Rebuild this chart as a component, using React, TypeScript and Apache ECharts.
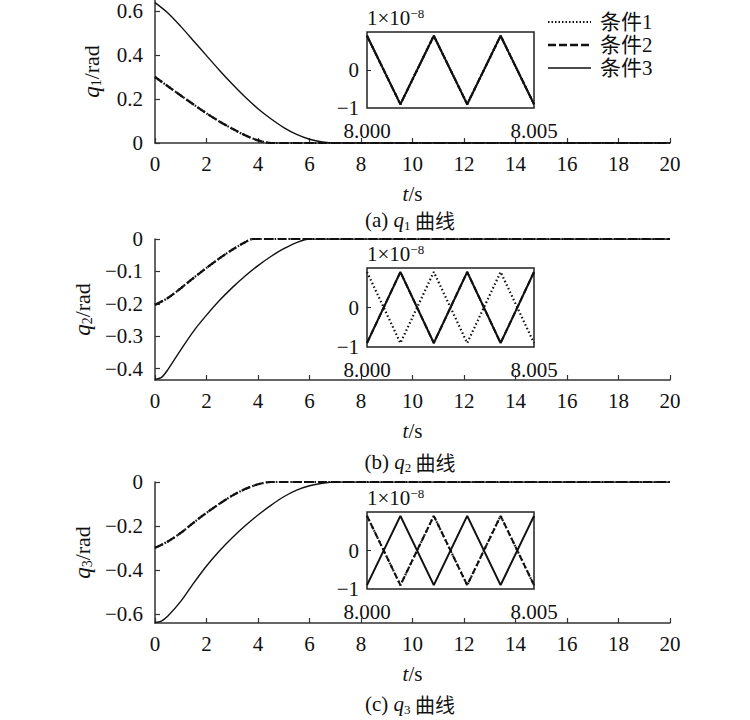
import React, { useEffect, useRef } from 'react';
import * as echarts from 'echarts';

// ---------- data ----------
const LEGEND_NAMES = ['条件1', '条件2', '条件3'];
const CAPTIONS = ['(a) ', '(b) ', '(c) '];
const CAPTION_SUBS = ['1', '2', '3'];

const X_TICK_STEP = 2;
const X_MAX = 20;

const Y1_TICKS = [0, 0.2, 0.4, 0.6];
const Y2_TICKS = [-0.4, -0.3, -0.2, -0.1, 0];
const Y3_TICKS = [-0.6, -0.4, -0.2, 0];

// q1
const T_Q1_C12 = [0, 0.5, 1, 1.5, 2, 2.5, 3, 3.5, 4, 4.5, 5.5, 20];
const Q1_C12 = [0.3, 0.258, 0.216, 0.175, 0.135, 0.098, 0.065, 0.035, 0.012, 0, 0, 0];
const T_Q1_C3 = [0, 0.5, 1, 1.5, 2, 2.5, 3, 3.5, 4, 4.5, 5, 5.5, 6, 6.5, 7, 8, 20];
const Q1_C3 = [0.638, 0.591, 0.53, 0.464, 0.397, 0.331, 0.268, 0.209, 0.156, 0.11, 0.07, 0.039, 0.017, 0.0043, 0, 0, 0];

// q2
const T_Q2_C12 = [0, 0.5, 1, 1.5, 2, 2.5, 3, 3.5, 3.8, 4.8, 20];
const Q2_C12 = [-0.203, -0.182, -0.152, -0.12, -0.089, -0.06, -0.033, -0.01, 0, 0, 0];
const T_Q2_C3 = [0, 0.25, 0.5, 1, 1.5, 2, 2.5, 3, 3.5, 4, 4.5, 5, 5.5, 6, 7, 20];
const Q2_C3 = [-0.433, -0.427, -0.403, -0.342, -0.284, -0.235, -0.19, -0.15, -0.114, -0.082, -0.054, -0.03, -0.011, 0, 0, 0];

// q3
const T_Q3_C12 = [0, 0.5, 1, 1.5, 2, 2.5, 3, 3.5, 4, 4.5, 5.5, 20];
const Q3_C12 = [-0.299, -0.27, -0.231, -0.184, -0.14, -0.099, -0.062, -0.032, -0.0104, 0, 0, 0];
const T_Q3_C3 = [0, 0.25, 0.5, 1, 1.5, 2, 2.5, 3, 3.5, 4, 4.5, 5, 5.5, 6, 6.5, 7, 8, 20];
const Q3_C3 = [-0.638, -0.631, -0.608, -0.542, -0.459, -0.381, -0.313, -0.253, -0.199, -0.15, -0.106, -0.067, -0.037, -0.017, -0.0055, 0, 0, 0];

// insets (zoom around t = 8.000 … 8.005 s, unit 1e-8)
const T_INSET = [8.0, 8.001, 8.002, 8.003, 8.004, 8.005];
const PEAK_FIRST = [0.9, -0.9, 0.9, -0.9, 0.9, -0.9];
const TROUGH_FIRST = [-0.9, 0.9, -0.9, 0.9, -0.9, 0.9];
const INSET_X_TICKS = [8.0, 8.005];
const INSET_Y_TICKS = [-1, 0];

// ---------- style ----------
const SERIF = "'Liberation Serif', serif";
const MIXED = "'Liberation Serif', 'Noto Sans CJK SC', serif";
const CJK = "'Noto Sans CJK SC', sans-serif";
const INK = '#111';
const FS = 21;

const SOLID = { color: INK, width: 1.4, type: 'solid' as const };
const DASH = { color: INK, width: 2.2, type: [9, 4] };
const DOT = { color: INK, width: 2.2, type: [1.5, 2] };
const I_SOLID = { color: INK, width: 2, type: 'solid' as const };
const I_DASH = { color: INK, width: 2, type: [6, 3] };
const I_DOT = { color: INK, width: 2.2, type: [1.5, 2.5] };
const LEGEND_STYLES = [
  { lineDash: [1.5, 2], lineWidth: 2 },
  { lineDash: [8, 3], lineWidth: 2.5 },
  { lineDash: null, lineWidth: 1.4 },
];

const MAIN_GRIDS = [
  { left: 155, top: 0, width: 515, height: 143 },
  { left: 155, top: 239, width: 515, height: 141 },
  { left: 155, top: 482, width: 515, height: 141 },
];
const INSET_GRIDS = [
  { left: 367, top: 32, width: 167, height: 76 },
  { left: 367, top: 268, width: 167, height: 79 },
  { left: 367, top: 512, width: 167, height: 77 },
];

const fmtMinus = (s: string) => s.replace('-', '−');

function pairs(ts: number[], vs: number[]) {
  return ts.map((t, i) => [t, vs[i]]);
}

function line(name: string, idx: number, ts: number[], vs: number[], ls: any, z: number, smooth: boolean) {
  return {
    type: 'line',
    name,
    xAxisIndex: idx,
    yAxisIndex: idx,
    data: pairs(ts, vs),
    symbol: 'none',
    showSymbol: false,
    smooth: smooth ? 0.3 : false,
    lineStyle: ls,
    z,
    silent: true,
  };
}

function buildOption() {
  const grids: any[] = [];
  const xAxes: any[] = [];
  const yAxes: any[] = [];
  const yTicks = [Y1_TICKS, Y2_TICKS, Y3_TICKS];
  const yMin = [0, -0.435, -0.64];
  const yMax = [0.65, 0, 0];

  MAIN_GRIDS.forEach((g, i) => {
    grids.push({ ...g, show: false });
    xAxes.push({
      type: 'value',
      gridIndex: i,
      min: 0,
      max: X_MAX,
      interval: X_TICK_STEP,
      axisLine: { show: true, onZero: false, lineStyle: { color: '#333', width: 1.5 } },
      axisTick: { show: true, inside: true, length: 5, lineStyle: { color: '#333', width: 1.2 } },
      axisLabel: { fontFamily: SERIF, fontSize: FS, color: INK, margin: 10 },
      splitLine: { show: false },
      name: '{i|t}/s',
      nameLocation: 'middle',
      nameGap: 40,
      nameTextStyle: {
        fontFamily: SERIF, fontSize: FS, color: INK,
        rich: { i: { fontFamily: SERIF, fontSize: FS, fontStyle: 'italic', color: INK } },
      },
    });
    yAxes.push({
      type: 'value',
      gridIndex: i,
      min: yMin[i],
      max: yMax[i],
      axisLine: { show: true, onZero: false, lineStyle: { color: '#333', width: 1.5 } },
      axisTick: {
        show: true, inside: true, length: 5, customValues: yTicks[i],
        lineStyle: { color: '#333', width: 1.2 },
      },
      axisLabel: {
        fontFamily: SERIF, fontSize: FS, color: INK, margin: 12,
        customValues: yTicks[i],
        formatter: (v: number) => (Math.abs(v) < 1e-9 ? '0' : fmtMinus(v.toFixed(1))),
      },
      splitLine: { show: false },
      name: '{i|q}{s|' + CAPTION_SUBS[i] + '}/rad',
      nameLocation: 'middle',
      nameRotate: 90,
      nameGap: 52,
      nameTextStyle: {
        fontFamily: SERIF, fontSize: 22, color: INK,
        rich: {
          i: { fontFamily: SERIF, fontSize: 23, fontStyle: 'italic', color: INK, lineHeight: 24 },
          s: { fontFamily: SERIF, fontSize: 14, color: INK, verticalAlign: 'bottom', lineHeight: 14 },
        },
      },
    });
  });

  INSET_GRIDS.forEach((g, i) => {
    grids.push({ ...g, show: true, borderColor: '#222', borderWidth: 1.5, backgroundColor: '#fff', z: 5 });
    xAxes.push({
      type: 'value',
      gridIndex: 3 + i,
      min: 8.0,
      max: 8.005,
      interval: 0.005,
      axisLine: { show: false },
      axisTick: { show: false },
      axisLabel: {
        fontFamily: SERIF, fontSize: FS, color: INK, margin: 12,
        customValues: INSET_X_TICKS,
        showMinLabel: true, showMaxLabel: true,
        formatter: (v: number) => v.toFixed(3),
      },
      splitLine: { show: false },
      z: 6,
    });
    yAxes.push({
      type: 'value',
      gridIndex: 3 + i,
      min: -1,
      max: 1,
      interval: 1,
      axisLine: { show: false },
      axisTick: { show: true, inside: true, length: 4, customValues: [0], lineStyle: { color: '#222' } },
      axisLabel: {
        fontFamily: SERIF, fontSize: FS, color: INK, margin: 8,
        customValues: INSET_Y_TICKS,
        formatter: (v: number) => (v === 0 ? '0' : fmtMinus(String(v))),
      },
      splitLine: { show: false },
      name: '1×10{sup|−8}',
      nameLocation: 'end',
      nameGap: 4,
      nameTextStyle: {
        fontFamily: SERIF, fontSize: FS, color: INK, align: 'left', verticalAlign: 'bottom',
        rich: { sup: { fontFamily: SERIF, fontSize: 13, color: INK, verticalAlign: 'top', lineHeight: 12 } },
      },
      z: 6,
    });
  });

  const series: any[] = [
    // q1 main
    line(LEGEND_NAMES[0], 0, T_Q1_C12, Q1_C12, DOT, 2, true),
    line(LEGEND_NAMES[1], 0, T_Q1_C12, Q1_C12, DASH, 3, true),
    line(LEGEND_NAMES[2], 0, T_Q1_C3, Q1_C3, SOLID, 4, true),
    // q2 main
    line(LEGEND_NAMES[1], 1, T_Q2_C12, Q2_C12, DASH, 2, true),
    line(LEGEND_NAMES[0], 1, T_Q2_C12, Q2_C12, DOT, 3, true),
    line(LEGEND_NAMES[2], 1, T_Q2_C3, Q2_C3, SOLID, 4, true),
    // q3 main
    line(LEGEND_NAMES[0], 2, T_Q3_C12, Q3_C12, DOT, 2, true),
    line(LEGEND_NAMES[1], 2, T_Q3_C12, Q3_C12, DASH, 3, true),
    line(LEGEND_NAMES[2], 2, T_Q3_C3, Q3_C3, SOLID, 4, true),
    // insets
    line(LEGEND_NAMES[0], 3, T_INSET, PEAK_FIRST, I_DOT, 7, false),
    line(LEGEND_NAMES[1], 3, T_INSET, PEAK_FIRST, I_DASH, 8, false),
    line(LEGEND_NAMES[2], 3, T_INSET, PEAK_FIRST, I_SOLID, 9, false),
    line(LEGEND_NAMES[0], 4, T_INSET, PEAK_FIRST, I_DOT, 7, false),
    line(LEGEND_NAMES[1], 4, T_INSET, TROUGH_FIRST, I_DASH, 8, false),
    line(LEGEND_NAMES[2], 4, T_INSET, TROUGH_FIRST, I_SOLID, 9, false),
    line(LEGEND_NAMES[0], 5, T_INSET, PEAK_FIRST, I_DOT, 7, false),
    line(LEGEND_NAMES[1], 5, T_INSET, PEAK_FIRST, I_DASH, 8, false),
    line(LEGEND_NAMES[2], 5, T_INSET, TROUGH_FIRST, I_SOLID, 9, false),
  ];

  const captionY = [220, 462, 704];
  const graphic: any[] = captionY.map((y, i) => ({
    type: 'text',
    x: 410,
    y,
    style: {
      text: '{n|' + CAPTIONS[i] + '}{i|q}{s|' + CAPTION_SUBS[i] + '}{c| 曲线}',
      align: 'center',
      verticalAlign: 'middle',
      rich: {
        n: { fontFamily: SERIF, fontSize: FS, fill: INK, lineHeight: 24 },
        i: { fontFamily: SERIF, fontSize: FS, fontStyle: 'italic', fill: INK, lineHeight: 24 },
        s: { fontFamily: SERIF, fontSize: 13, fill: INK, verticalAlign: 'bottom', lineHeight: 14 },
        c: { fontFamily: CJK, fontSize: 20, fill: INK, lineHeight: 24 },
      },
    },
  }));

  // legend (drawn as graphic so the key lines match the series' dash styles)
  const legendY = [22, 45, 68];
  LEGEND_NAMES.forEach((name, i) => {
    graphic.push({
      type: 'line',
      shape: { x1: 548, y1: legendY[i], x2: 591, y2: legendY[i] },
      style: { stroke: INK, lineWidth: LEGEND_STYLES[i].lineWidth, lineDash: LEGEND_STYLES[i].lineDash },
      silent: true,
    });
    graphic.push({
      type: 'text',
      x: 600,
      y: legendY[i],
      style: {
        text: name,
        font: `${FS}px ${MIXED}`,
        fill: INK,
        align: 'left',
        verticalAlign: 'middle',
      },
      silent: true,
    });
  });

  return {
    animation: false,
    backgroundColor: '#fff',
    grid: grids,
    xAxis: xAxes,
    yAxis: yAxes,
    series,
    graphic,
  };
}

export default function App() {
  const ref = useRef<HTMLDivElement>(null);
  useEffect(() => {
    if (!ref.current) return;
    const chart = echarts.init(ref.current, undefined, { renderer: 'svg' });
    chart.setOption(buildOption() as any);
    return () => chart.dispose();
  }, []);
  return (
    <div
      ref={ref}
      style={{ position: 'absolute', left: 0, top: 0, width: 750, height: 720, background: '#fff' }}
    />
  );
}
